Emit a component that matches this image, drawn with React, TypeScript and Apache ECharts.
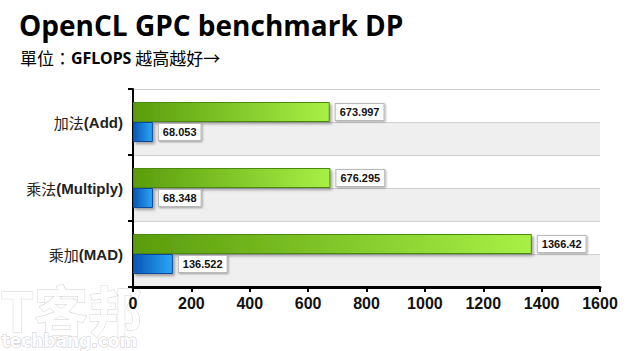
import React, { useEffect, useRef } from "react";
import * as echarts from "echarts";

const categories = ["加法(Add)", "乘法(Multiply)", "乘加(MAD)"];
const greenValues = [673.997, 676.295, 1366.42];
const blueValues = [68.053, 68.348, 136.522];
const xTicks = [0, 200, 400, 600, 800, 1000, 1200, 1400, 1600];

export default function App() {
  const ref = useRef<HTMLDivElement>(null);
  useEffect(() => {
    if (!ref.current) return;
    const chart = echarts.init(ref.current, undefined, { renderer: "svg" });
    const labelStyle = {
      show: true,
      position: "right" as const,
      distance: 6,
      backgroundColor: "#ffffff",
      borderColor: "#b8b8b8",
      borderWidth: 1,
      padding: [3, 4, 2, 4],
      fontFamily: "Liberation Sans, Arial, sans-serif",
      fontWeight: "bold" as const,
      fontSize: 11,
      color: "#111",
      shadowColor: "rgba(0,0,0,0.35)",
      shadowBlur: 2,
      shadowOffsetX: 1,
      shadowOffsetY: 1,
      formatter: (p: any) => String(p.value),
    };
    chart.setOption({
      animation: false,
      backgroundColor: "#ffffff",
      title: [
        {
          text: "OpenCL GPC benchmark DP",
          left: 14,
          top: 6,
          textStyle: {
            fontFamily: "Open Sans, Noto Sans, sans-serif",
            fontWeight: "bold",
            fontSize: 28,
            color: "#000",
          },
        },
        {
          text: "{n|單位：}{b|GFLOPS}{n| 越高越好→}",
          left: 15,
          top: 44,
          textStyle: {
            fontWeight: "normal",
            rich: {
              n: { fontFamily: "Noto Sans CJK TC, sans-serif", fontSize: 17, fontWeight: "normal", color: "#000" },
              b: { fontFamily: "Noto Sans, sans-serif", fontSize: 16, fontWeight: "bold", color: "#000" },
            },
          },
        },
      ],
      graphic: [
        {
          type: "text",
          left: 0,
          top: 281,
          z: -1,
          style: {
            text: "T客邦",
            fill: "#ffffff",
            stroke: "#d2d2d2",
            lineWidth: 1,
            lineHeight: 50,
            font: "bold 54px 'Noto Sans CJK TC', sans-serif",
          },
        },
        {
          type: "text",
          left: 1,
          top: 332,
          z: -1,
          style: {
            text: "techbang.com",
            fill: "#ffffff",
            stroke: "#c8c8c8",
            lineWidth: 1,
            font: "bold 17px 'DejaVu Sans', sans-serif",
          },
        },
      ],
      grid: { left: 133, right: 40, top: 89, bottom: 64, containLabel: false },
      xAxis: {
        type: "value",
        min: 0,
        max: 1600,
        interval: 200,
        axisLine: { show: true, lineStyle: { color: "#000", width: 3 } },
        axisTick: { show: true, length: 5, lineStyle: { color: "#000", width: 2 } },
        splitLine: { show: false },
        axisLabel: {
          margin: 8,
          fontFamily: "Liberation Sans Narrow, Arial Narrow, Liberation Sans, sans-serif",
          fontWeight: "bold",
          fontSize: 16,
          color: "#111",
          formatter: (v: number) => (xTicks.includes(v) ? String(v) : ""),
        },
      },
      yAxis: [
        {
          type: "category",
          data: categories,
          inverse: true,
          axisLine: { show: true, lineStyle: { color: "#000", width: 2 } },
          axisTick: { show: true, length: 5, lineStyle: { color: "#000", width: 2 } },
          splitLine: { show: false },
          axisLabel: {
            margin: 10,
            formatter: (v: string) => {
              const i = v.indexOf("(");
              return "{c|" + v.slice(0, i) + "}{e|" + v.slice(i) + "}";
            },
            rich: {
              c: { fontFamily: "Noto Sans CJK TC, sans-serif", fontSize: 15, color: "#222" },
              e: { fontFamily: "Liberation Sans, Arial, sans-serif", fontSize: 15, fontWeight: "bold", color: "#222" },
            },
          },
        },
        {
          type: "value",
          min: 0,
          max: 6,
          interval: 1,
          position: "right",
          axisLine: { show: false },
          axisTick: { show: false },
          axisLabel: { show: false },
          splitLine: { show: true, lineStyle: { color: "#cfcfcf", width: 1 } },
          splitArea: { show: true, areaStyle: { color: ["#efefef", "#ffffff"] } },
        },
      ],
      series: [
        {
          type: "bar",
          name: "green",
          yAxisIndex: 0,
          data: greenValues,
          barWidth: 20,
          barGap: "0%",
          itemStyle: {
            color: new echarts.graphic.LinearGradient(0, 0, 1, 0, [
              { offset: 0, color: "#5a9c0c" },
              { offset: 1, color: "#a8f046" },
            ]),
            borderColor: "#4c8a10",
            borderWidth: 1,
            shadowColor: "rgba(0,0,0,0.35)",
            shadowBlur: 3,
            shadowOffsetX: 2,
            shadowOffsetY: 2,
          },
          label: labelStyle,
        },
        {
          type: "bar",
          name: "blue",
          yAxisIndex: 0,
          data: blueValues,
          barWidth: 20,
          barGap: "0%",
          itemStyle: {
            color: new echarts.graphic.LinearGradient(0, 0, 1, 0, [
              { offset: 0, color: "#0a56b6" },
              { offset: 1, color: "#2aa6f6" },
            ]),
            borderColor: "#0a4a9c",
            borderWidth: 1,
            shadowColor: "rgba(0,0,0,0.35)",
            shadowBlur: 3,
            shadowOffsetX: 2,
            shadowOffsetY: 2,
          },
          label: labelStyle,
        },
      ],
    });
    return () => chart.dispose();
  }, []);
  return (
    <div
      ref={ref}
      style={{ position: "fixed", left: 0, top: 0, width: 640, height: 351 }}
    />
  );
}
